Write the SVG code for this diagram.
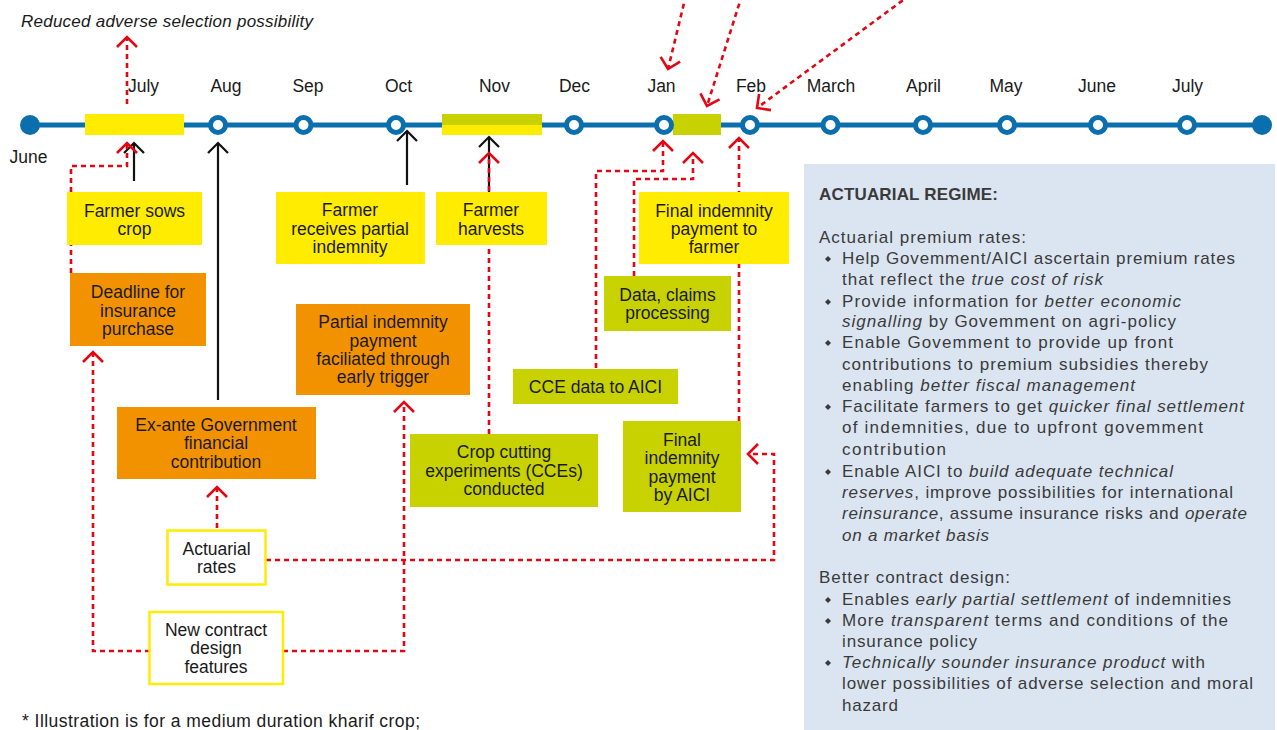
<svg xmlns="http://www.w3.org/2000/svg" width="1277" height="730" viewBox="0 0 1277 730">
<style>
text{font-family:"Liberation Sans","Open Sans",sans-serif;font-size:17.5px;fill:#1a1a1a}
.c{text-anchor:middle}
.mon{fill:#1a1a1a;text-anchor:middle}
.p{fill:#3a3a3a;font-size:17px}
.i{font-style:italic}
.yel{fill:#ffec00}
.org{fill:#f39200}
.olv{fill:#c8d200}
.wb{fill:#ffffff;stroke:#ffec00;stroke-width:2.5}
.blk{fill:none;stroke:#111;stroke-width:2.2;marker-end:url(#ab)}
.red{fill:none;stroke:#e30613;stroke-width:2.6;stroke-dasharray:5,4;marker-end:url(#ar)}
.oc{fill:#fff;stroke:#0b6fad;stroke-width:5}
</style>
<defs>
<marker id="ar" markerUnits="userSpaceOnUse" markerWidth="30" markerHeight="30" viewBox="-15 -15 30 30" refX="0" refY="0" orient="auto">
<path d="M-10,-10 L0,0 L-10,10" fill="none" stroke="#e30613" stroke-width="2.6" stroke-dasharray="none"/>
</marker>
<marker id="ab" markerUnits="userSpaceOnUse" markerWidth="30" markerHeight="30" viewBox="-15 -15 30 30" refX="0" refY="0" orient="auto">
<path d="M-10,-10 L0,0 L-10,10" fill="none" stroke="#111" stroke-width="2.2"/>
</marker>
</defs>
<rect width="1277" height="730" fill="#fff"/>

<text x="21" y="27" class="i" style="font-size:17px" textLength="292" lengthAdjust="spacing">Reduced adverse selection possibility</text>

<g id="timeline">
<line x1="30" y1="125" x2="1262" y2="125" stroke="#0b6fad" stroke-width="5"/>
<circle cx="30" cy="125" r="10" fill="#0b6fad"/>
<circle cx="1262" cy="125" r="10" fill="#0b6fad"/>
<rect x="85" y="114" width="99" height="21" class="yel"/>
<rect x="442" y="114" width="100" height="11" class="olv"/>
<rect x="442" y="125" width="100" height="10" class="yel"/>
<rect x="673" y="114" width="48" height="21" class="olv"/>
<circle cx="218" cy="125" r="7.5" class="oc"/>
<circle cx="303.5" cy="125" r="7.5" class="oc"/>
<circle cx="396" cy="125" r="7.5" class="oc"/>
<circle cx="574" cy="125" r="7.5" class="oc"/>
<circle cx="664" cy="125" r="7.5" class="oc"/>
<circle cx="750" cy="125" r="7.5" class="oc"/>
<circle cx="830.5" cy="125" r="7.5" class="oc"/>
<circle cx="923" cy="125" r="7.5" class="oc"/>
<circle cx="1007" cy="125" r="7.5" class="oc"/>
<circle cx="1098" cy="125" r="7.5" class="oc"/>
<circle cx="1187" cy="125" r="7.5" class="oc"/>
<text class="mon" x="143.5" y="92">July</text>
<text class="mon" x="226" y="92">Aug</text>
<text class="mon" x="308" y="92">Sep</text>
<text class="mon" x="398.5" y="92">Oct</text>
<text class="mon" x="494.5" y="92">Nov</text>
<text class="mon" x="574.5" y="92">Dec</text>
<text class="mon" x="661.5" y="92">Jan</text>
<text class="mon" x="751" y="92">Feb</text>
<text class="mon" x="831" y="92">March</text>
<text class="mon" x="923.5" y="92">April</text>
<text class="mon" x="1006" y="92">May</text>
<text class="mon" x="1097" y="92">June</text>
<text class="mon" x="1187.5" y="92">July</text>
<text class="mon" x="28.5" y="163">June</text>
</g>

<g id="connectors">
<path class="blk" d="M134,181 V143"/>
<path class="blk" d="M218,400 V143"/>
<path class="blk" d="M407,185 V131"/>
<path class="blk" d="M489,192 V137"/>
<path class="red" d="M127,104 V37"/>
<path class="red" d="M71,273 V166 H127 V143"/>
<path class="red" d="M150,651 H93 V352"/>
<path class="red" d="M217,528 V487"/>
<path class="red" d="M266,560 H774 V454 H748"/>
<path class="red" d="M283,651 H404 V402"/>
<path class="red" d="M489,434 V153"/>
<path class="red" d="M596,368 V171 H663 V141"/>
<path class="red" d="M634,276 V179 H693 V153"/>
<path class="red" d="M739,421 V138"/>
<path class="red" d="M686,-5 L668,69"/>
<path class="red" d="M742,-5 L707,106"/>
<path class="red" d="M910,-5 L757,108"/>
</g>

<g id="n-sows"><rect x="67" y="192" width="135" height="53" class="yel"/>
<text class="c" x="134.5" y="217">Farmer sows</text><text class="c" x="134.5" y="235">crop</text></g>

<g id="n-deadline"><rect x="70" y="273" width="136" height="73" class="org"/>
<text class="c" x="138" y="298">Deadline for</text><text class="c" x="138" y="317">insurance</text><text class="c" x="138" y="335">purchase</text></g>

<g id="n-exante"><rect x="117" y="407" width="199" height="72" class="org"/>
<text class="c" x="216" y="431">Ex-ante Government</text><text class="c" x="216" y="449">financial</text><text class="c" x="216" y="468">contribution</text></g>

<g id="n-receives"><rect x="276" y="192" width="149" height="72" class="yel"/>
<text class="c" x="350" y="216">Farmer</text><text class="c" x="350" y="235">receives partial</text><text class="c" x="350" y="253">indemnity</text></g>

<g id="n-harvests"><rect x="436" y="192" width="111" height="53" class="yel"/>
<text class="c" x="491" y="216">Farmer</text><text class="c" x="491" y="235">harvests</text></g>

<g id="n-partial"><rect x="296" y="304" width="174" height="91" class="org"/>
<text class="c" x="383" y="328">Partial indemnity</text><text class="c" x="383" y="347">payment</text><text class="c" x="383" y="365">faciliated through</text><text class="c" x="383" y="383">early trigger</text></g>

<g id="n-cce"><rect x="410" y="434" width="188" height="73" class="olv"/>
<text class="c" x="504" y="458">Crop cutting</text><text class="c" x="504" y="477">experiments (CCEs)</text><text class="c" x="504" y="495">conducted</text></g>

<g id="n-ccedata"><rect x="513" y="369" width="165" height="35" class="olv"/>
<text class="c" x="595.5" y="393">CCE data to AICI</text></g>

<g id="n-claims"><rect x="604" y="276" width="127" height="55" class="olv"/>
<text class="c" x="667.5" y="301">Data, claims</text><text class="c" x="667.5" y="319">processing</text></g>

<g id="n-finalfarmer"><rect x="639" y="192" width="150" height="72" class="yel"/>
<text class="c" x="714" y="217">Final indemnity</text><text class="c" x="714" y="235">payment to</text><text class="c" x="714" y="253">farmer</text></g>

<g id="n-finalaici"><rect x="623" y="421" width="118" height="91" class="olv"/>
<text class="c" x="682" y="446">Final</text><text class="c" x="682" y="464">indemnity</text><text class="c" x="682" y="483">payment</text><text class="c" x="682" y="501">by AICI</text></g>

<g id="n-actrates"><rect x="167.5" y="530.5" width="98" height="54" class="wb"/>
<text class="c" x="216.5" y="555">Actuarial</text><text class="c" x="216.5" y="573">rates</text></g>

<g id="n-ncdf"><rect x="149.5" y="612" width="133.5" height="72" class="wb"/>
<text class="c" x="216" y="636">New contract</text><text class="c" x="216" y="654">design</text><text class="c" x="216" y="673">features</text></g>

<text x="22" y="727" textLength="398" lengthAdjust="spacing">* Illustration is for a medium duration kharif crop;</text>

<g id="panel">
<rect x="804" y="164" width="471" height="570" fill="#dbe5f1"/>
<g fill="#3a3a3a">
<path d="M825,259 l3,-3 l3,3 l-3,3z"/>
<path d="M825,302 l3,-3 l3,3 l-3,3z"/>
<path d="M825,343 l3,-3 l3,3 l-3,3z"/>
<path d="M825,407 l3,-3 l3,3 l-3,3z"/>
<path d="M825,472 l3,-3 l3,3 l-3,3z"/>
<path d="M825,600 l3,-3 l3,3 l-3,3z"/>
<path d="M825,621 l3,-3 l3,3 l-3,3z"/>
<path d="M825,663 l3,-3 l3,3 l-3,3z"/>
</g>
<text class="p" x="819" y="200" font-weight="bold" textLength="179" lengthAdjust="spacing">ACTUARIAL REGIME:</text>
<text class="p" x="819" y="243" textLength="207" lengthAdjust="spacing">Actuarial premium rates:</text>
<text class="p" x="842" y="264" textLength="393" lengthAdjust="spacing">Help Govemment/AICI ascertain premium rates</text>
<text class="p" x="842" y="285" textLength="261" lengthAdjust="spacing">that reflect the <tspan class="i">true cost of risk</tspan></text>
<text class="p" x="842" y="307" textLength="339" lengthAdjust="spacing">Provide information for <tspan class="i">better economic</tspan></text>
<text class="p" x="842" y="327" textLength="334" lengthAdjust="spacing"><tspan class="i">signalling</tspan> by Govemment on agri-policy</text>
<text class="p" x="842" y="348" textLength="331" lengthAdjust="spacing">Enable Govemment to provide up front</text>
<text class="p" x="842" y="370" textLength="366" lengthAdjust="spacing">contributions to premium subsidies thereby</text>
<text class="p" x="842" y="391" textLength="293" lengthAdjust="spacing">enabling <tspan class="i">better fiscal management</tspan></text>
<text class="p" x="842" y="412" textLength="402" lengthAdjust="spacing">Facilitate farmers to get <tspan class="i">quicker final settlement</tspan></text>
<text class="p" x="842" y="433" textLength="361" lengthAdjust="spacing">of indemnities, due to upfront govemment</text>
<text class="p" x="842" y="455" textLength="104" lengthAdjust="spacing">contribution</text>
<text class="p" x="842" y="477" textLength="331" lengthAdjust="spacing">Enable AICI to <tspan class="i">build adequate technical</tspan></text>
<text class="p" x="842" y="498" textLength="391" lengthAdjust="spacing"><tspan class="i">reserves</tspan>, improve possibilities for international</text>
<text class="p" x="842" y="519" textLength="405" lengthAdjust="spacing"><tspan class="i">reinsurance</tspan>, assume insurance risks and <tspan class="i">operate</tspan></text>
<text class="p" x="842" y="541" textLength="147" lengthAdjust="spacing"><tspan class="i">on a market basis</tspan></text>
<text class="p" x="819" y="583" textLength="191" lengthAdjust="spacing">Better contract design:</text>
<text class="p" x="842" y="605" textLength="389" lengthAdjust="spacing">Enables <tspan class="i">early partial settlement</tspan> of indemnities</text>
<text class="p" x="842" y="626" textLength="386" lengthAdjust="spacing">More <tspan class="i">transparent</tspan> terms and conditions of the</text>
<text class="p" x="842" y="647" textLength="135" lengthAdjust="spacing">insurance policy</text>
<text class="p" x="842" y="668" textLength="363" lengthAdjust="spacing"><tspan class="i">Technically sounder insurance product</tspan> with</text>
<text class="p" x="842" y="689" textLength="411" lengthAdjust="spacing">lower possibilities of adverse selection and moral</text>
<text class="p" x="842" y="711" textLength="56" lengthAdjust="spacing">hazard</text>
</g>
</svg>
